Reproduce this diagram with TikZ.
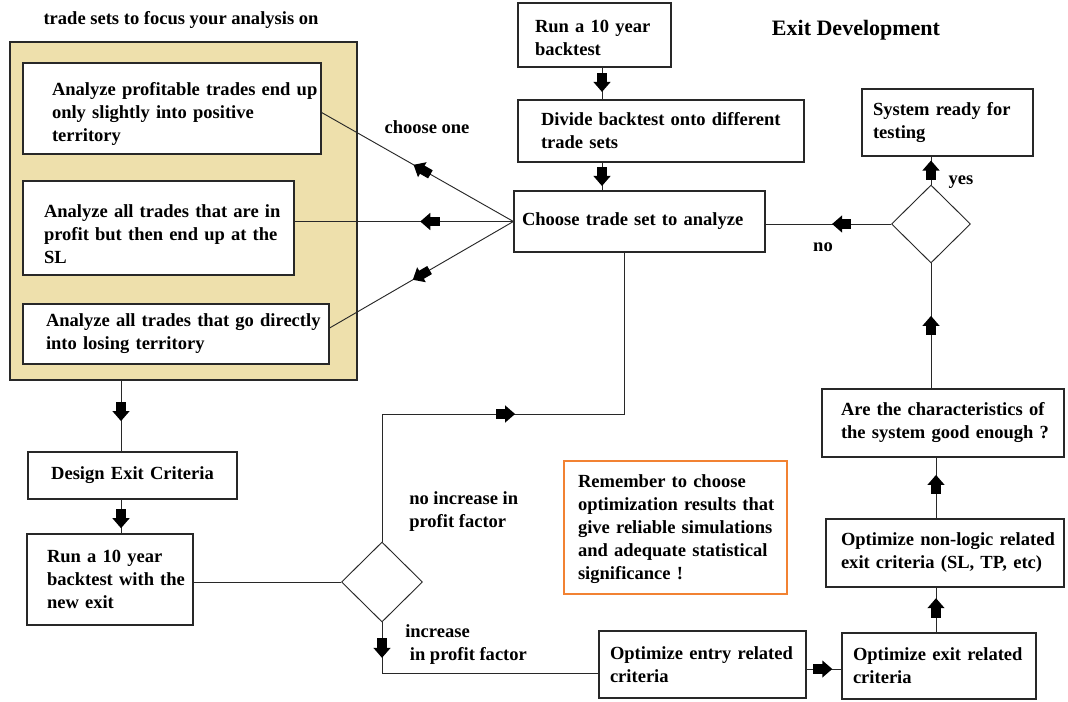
\documentclass[tikz,border=0pt]{standalone}
\usepackage{fontspec}
\setmainfont{Liberation Serif}
\usetikzlibrary{shapes.geometric,decorations.markings}
\definecolor{panelfill}{RGB}{238,224,172}
\definecolor{orangeline}{RGB}{242,130,50}
\definecolor{edge}{RGB}{40,40,40}
\begin{document}
\begin{tikzpicture}[x=0.75pt,y=-0.75pt,
  bodyfont/.style={font=\fontsize{13.9}{17.25}\selectfont\bfseries},
  box/.style={draw=edge, line width=0.9pt, fill=white, inner xsep=0pt, inner ysep=0pt, align=left, bodyfont},
  lpad/.style={execute at begin node={\leftskip=#1\relax}},
  tdown/.style={execute at begin node={\rule{0pt}{#1}}},
  dia/.style={draw=edge, line width=0.7pt, diamond, inner sep=0pt, fill=white},
  conn/.style={draw=edge, line width=0.7pt},
  lbl/.style={bodyfont, inner sep=0pt, align=left},
  blk/.style={postaction={decorate}, decoration={markings, mark=at position #1 with {\fill[black] (-7pt,-3.5pt) rectangle (0.5pt,3.5pt); \fill[black] (0pt,-6.5pt) -- (7.5pt,0pt) -- (0pt,6.5pt) -- cycle;}}}
]
\useasboundingbox (0,0) rectangle (1068,702);
\fill[white] (0,0) rectangle (1068,702);

% titles
\node[lbl] (ttl) at (181,20) {trade sets to focus your analysis on};
\node[lbl, font=\fontsize{16.5}{19}\selectfont\bfseries] (ttr) at (856,30) {Exit Development};

% left panel
\node[draw=edge, fill=panelfill, line width=0.9pt, minimum width=260.25pt, minimum height=253.5pt, inner sep=0pt] (panel) at (183.5,211) {};
\node[box, text width=223.5pt, minimum height=68.25pt, lpad=21.75pt, tdown=18.5pt] (A1) at (172,108.5) {Analyze profitable trades end up\\only slightly into positive\\territory};
\node[box, text width=203.25pt, minimum height=70.5pt, lpad=15.75pt, tdown=18.5pt] (A2) at (158.5,228) {Analyze all trades that are in\\profit but then end up at the\\SL};
\node[box, text width=229.5pt, minimum height=45pt, lpad=17.25pt] (A3) at (176,334) {Analyze all trades that go directly\\into losing territory};

% top center
\node[box, text width=114.75pt, minimum height=48pt, lpad=12.75pt, tdown=14pt] (run) at (594.5,35) {Run a 10 year\\backtest};
\node[box, text width=214.5pt, minimum height=46.5pt, lpad=17.25pt] (divide) at (661,131) {Divide backtest onto different\\trade sets};
\node[box, text width=188.25pt, minimum height=45.75pt, lpad=6pt] (choose) at (639.5,221.5) {Choose trade set to analyze};

% right column
\node[box, text width=128.25pt, minimum height=50.25pt, lpad=8.25pt] (system) at (947.5,122.5) {System ready for\\testing};
\node[dia, minimum width=59.25pt, minimum height=58.5pt] (d1) at (931,224) {};
\node[box, text width=181.5pt, minimum height=51pt, lpad=14.25pt] (are) at (943,423) {Are the characteristics of\\the system good enough ?};
\node[box, text width=178.5pt, minimum height=51pt, lpad=11.25pt] (nonlogic) at (945,553) {Optimize non-logic related\\exit criteria (SL, TP, etc)};
\node[box, text width=145.5pt, minimum height=49.5pt, lpad=8.25pt] (exitopt) at (939,666) {Optimize exit related\\criteria};
\node[box, text width=155.25pt, minimum height=50.25pt, lpad=8.25pt] (entryopt) at (702.5,664.5) {Optimize entry related\\criteria};

% note
\node[box, draw=orangeline, line width=2.2pt, text width=167.25pt, minimum height=99.75pt, lpad=10.5pt, tdown=12.5pt] (note) at (675.5,527.5) {Remember to choose\\optimization results that\\give reliable simulations\\and adequate statistical\\significance !};

% bottom left
\node[box, align=center, text width=156.75pt, minimum height=35.25pt] (design) at (132.5,475.5) {Design Exit Criteria};
\node[box, text width=124.5pt, minimum height=68.25pt, lpad=15pt] (runnew) at (110,579.5) {Run a 10 year\\backtest with the\\new exit};
\node[dia, minimum width=60.75pt, minimum height=60pt] (d2) at (382,582) {};

% labels
\node[lbl] (lchoose) at (427,127) {choose one};
\node[lbl] (lno) at (823,247) {no};
\node[lbl] (lyes) at (961,182) {yes};
\node[lbl, anchor=west] (lnoinc) at (409,511.5) {no increase in\\profit factor};
\node[lbl, anchor=west] (linc) at (405,644.5) {increase\\\ in profit factor};

% helper coordinates
\coordinate (cx) at (602,0);
\coordinate (lx) at (121,0);
\coordinate (rx) at (936,0);
\coordinate (ey) at (0,669);
\coordinate (by) at (0,673);
\coordinate (up) at (624,414);

% connectors
\path[conn, blk=0.45] (run.south -| cx) -- (divide.north -| cx);
\path[conn, blk=0.48] (divide.south -| cx) -- (choose.north -| cx);
\path[conn, blk=0.475] (choose.west) -- ([yshift=-3pt]A1.east);
\path[conn, blk=0.38] (choose.west) -- (choose.west -| A2.east);
\path[conn, blk=0.5] (choose.west) -- ([yshift=4.5pt]A3.east);
\path[conn, blk=0.39] (d1.west) -- (choose.east |- d1.west);
\path[conn, blk=0.5] (d1.north) -- (system.south -| d1.north);
\path[conn, blk=0.5] (are.north -| d1.south) -- (d1.south);
\path[conn, blk=0.55] (nonlogic.north -| rx) -- (are.south -| rx);
\path[conn, blk=0.54] (exitopt.north -| rx) -- (nonlogic.south -| rx);
\path[conn, blk=0.45] (entryopt.east |- ey) -- (exitopt.west |- ey);
\path[conn, blk=0.43] (panel.south -| lx) -- (design.north -| lx);
\path[conn, blk=0.55] (design.south -| lx) -- (runnew.north -| lx);
\path[conn] (runnew.east |- d2.west) -- (d2.west);
\path[conn, blk=0.095] (d2.south) |- (entryopt.west |- by);
\path[conn, blk=0.472] (d2.north) |- (up) -- (choose.south -| up);
\end{tikzpicture}
\end{document}
